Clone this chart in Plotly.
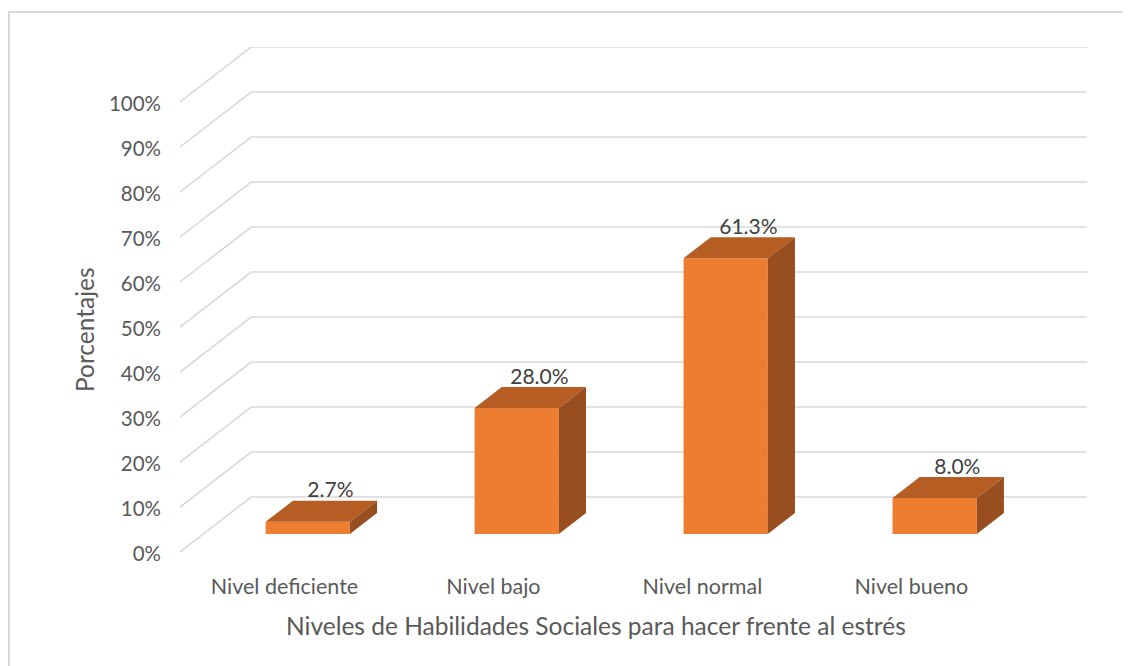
import plotly.graph_objects as go

# Datos
categorias = ["Nivel deficiente", "Nivel bajo", "Nivel normal", "Nivel bueno"]
porcentajes = [2.7, 28.0, 61.3, 8.0]
ticks_y = [0, 10, 20, 30, 40, 50, 60, 70, 80, 90, 100]
ticks_y_txt = [f"{v}%" for v in ticks_y]
titulo_x = "Niveles de Habilidades Sociales para hacer frente al estrés"
titulo_y = "Porcentajes"

# Estilo / geometría pseudo-3D
FRENTE = "#ED7D31"
TECHO = "#B55D22"
LADO = "#984E1E"
GRIS = "#D9D9D9"
TXT = "#595959"
FUENTE = "Lato"

PROF_X = 0.3405   # profundidad total en unidades de categoría
PROF_Y = 12.22    # profundidad total en unidades de %
T0, T1 = 0.327, 0.709  # posición de la barra dentro de la profundidad
ANCHO = 0.403

fig = go.Figure()

# Rejilla (debajo de las barras): diagonal izquierda + línea en la pared del fondo
x_fin = len(categorias) - 0.5 + PROF_X
formas = []
for v in ticks_y:
    formas.append(dict(type="path", xref="x", yref="y", layer="below",
                       path=f"M -0.5 {v} L {-0.5 + PROF_X} {v + PROF_Y} L {x_fin} {v + PROF_Y}",
                       line=dict(color=GRIS, width=1.6)))

dx0, dy0 = T0 * PROF_X, T0 * PROF_Y
dx1, dy1 = T1 * PROF_X, T1 * PROF_Y
pos = list(range(len(categorias)))

# Cara frontal
fig.add_trace(go.Bar(x=[p + dx0 for p in pos], y=porcentajes, base=dy0, width=ANCHO,
                     marker=dict(color=FRENTE, line=dict(width=0)), showlegend=False,
                     hovertemplate="%{y:.1f}%<extra></extra>"))

# Techo y lado de cada barra
for p, v in zip(pos, porcentajes):
    izq, der = p - ANCHO / 2, p + ANCHO / 2
    fig.add_trace(go.Scatter(
        x=[izq + dx0, der + dx0, der + dx1, izq + dx1, izq + dx0],
        y=[dy0 + v, dy0 + v, dy1 + v, dy1 + v, dy0 + v],
        fill="toself", fillcolor=TECHO, mode="lines", line=dict(width=0),
        hoverinfo="skip", showlegend=False))
    fig.add_trace(go.Scatter(
        x=[der + dx0, der + dx1, der + dx1, der + dx0, der + dx0],
        y=[dy0, dy1, dy1 + v, dy0 + v, dy0],
        fill="toself", fillcolor=LADO, mode="lines", line=dict(width=0),
        hoverinfo="skip", showlegend=False))

# Etiquetas de datos
fig.add_trace(go.Scatter(
    x=[p + 0.22 for p in pos], y=[dy1 + v - 0.4 for v in porcentajes],
    mode="text", text=[f"{v:.1f}%" for v in porcentajes], textposition="top center",
    textfont=dict(family=FUENTE, size=21, color="#404040"),
    hoverinfo="skip", showlegend=False))

fig.update_xaxes(
    range=[-0.5, x_fin],
    tickvals=pos, ticktext=categorias,
    tickfont=dict(family=FUENTE, size=21.5, color=TXT),
    showgrid=False, zeroline=False, showline=False, ticks="",
    ticklabelstandoff=19,
)
fig.update_yaxes(
    range=[0, 100 + PROF_Y],
    tickvals=ticks_y, ticktext=ticks_y_txt,
    tickfont=dict(family=FUENTE, size=20.5, color=TXT),
    showgrid=False, zeroline=False, showline=False, ticks="",
    ticklabelstandoff=18, ticklabelshift=2,
)

# Títulos de ejes (Excel los centra en todo el gráfico, no en el área de trazado)
fig.add_annotation(text=titulo_x, xref="paper", yref="paper", x=0.4587, y=-0.1446,
                   xanchor="center", yanchor="middle", showarrow=False,
                   font=dict(family=FUENTE, size=24.5, color=TXT))
fig.add_annotation(text=titulo_y, xref="paper", yref="paper", x=-0.1058, y=0.4396,
                   xanchor="center", yanchor="middle", showarrow=False, textangle=-90,
                   font=dict(family=FUENTE, size=24.5, color=TXT))

# marco del gráfico
formas.append(dict(type="rect", xref="paper", yref="paper",
                   x0=-171 / 907, x1=1.1, y0=-0.3, y1=1 + 35 / 505,
                   line=dict(color=GRIS, width=2), layer="below"))

fig.update_layout(
    width=1131, height=666,
    margin=dict(l=172, r=52, t=39, b=122),
    plot_bgcolor="white", paper_bgcolor="white",
    barmode="overlay",
    shapes=formas,
)

fig.write_html("out.html")
